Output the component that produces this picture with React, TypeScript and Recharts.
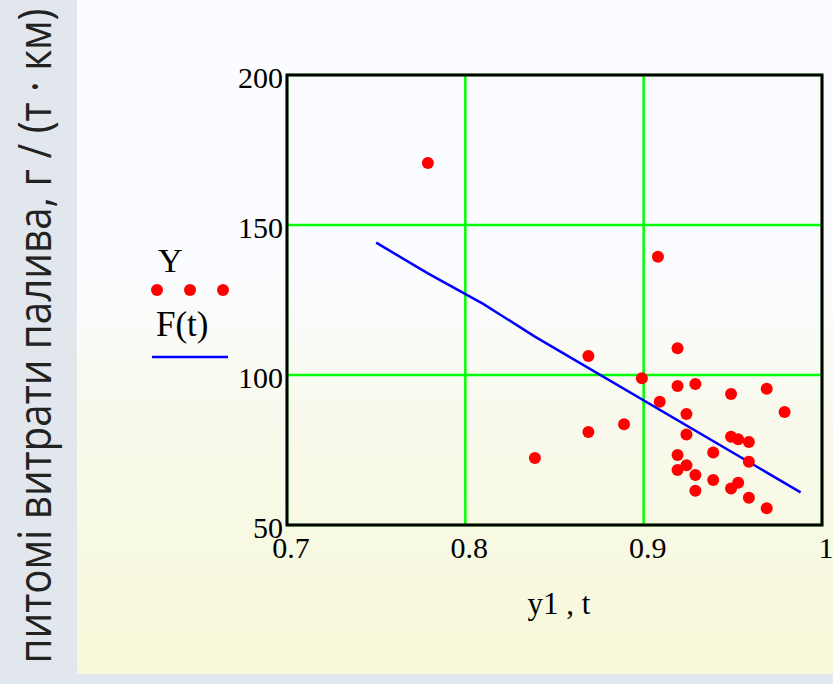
import React from "react";
import {
  ScatterChart,
  Scatter,
  XAxis,
  YAxis,
  CartesianGrid,
  ReferenceArea,
} from "recharts";

// Axis ticks
const xTicks = [0.7, 0.8, 0.9, 1];
const yTicks = [50, 100, 150, 200];

// Measured points: load t vs specific fuel consumption Y
const tValues = [
  0.779, 0.908, 0.869, 0.919, 0.899, 0.919, 0.929, 0.949, 0.969, 0.909, 0.979,
  0.924, 0.869, 0.889, 0.839, 0.924, 0.949, 0.953, 0.959, 0.939, 0.919, 0.959,
  0.919, 0.924, 0.929, 0.939, 0.949, 0.953, 0.929, 0.959, 0.969,
];
const yValues = [
  170.7, 139.4, 106.3, 108.9, 98.9, 96.3, 97, 93.7, 95.4, 91.1, 87.7, 87, 81,
  83.6, 72.3, 80.2, 79.4, 78.6, 77.7, 74.2, 73.3, 71.1, 68.3, 69.9, 66.7, 65,
  62.2, 64.1, 61.4, 59.1, 55.6,
];

// Fitted regression F(t)
const fitT = [0.75, 0.779, 0.81, 0.839, 0.988];
const fitF = [144.1, 133.9, 123.7, 112.8, 60.9];

const points = tValues.map((t, i) => ({ t, v: yValues[i] }));
const fitLine = fitT.map((t, i) => ({ t, v: fitF[i] }));

const SERIF = '"Liberation Serif", "Times New Roman", serif';
const SANS = '"Open Sans", "Noto Sans", sans-serif';

const XTick = (props: any) => {
  const { x, y, payload } = props;
  const label = payload.value === 1 ? "1" : payload.value.toFixed(1);
  return (
    <text x={x + 4} y={y + 33} textAnchor="middle" fontFamily={SERIF} fontSize={30} fill="#000">
      {label}
    </text>
  );
};

const YTick = (props: any) => {
  const { x, y, payload } = props;
  return (
    <text x={x} y={y + 13} textAnchor="end" fontFamily={SERIF} fontSize={30} fill="#000">
      {payload.value}
    </text>
  );
};

const Dot = (props: any) => <circle cx={props.cx} cy={props.cy} r={6} fill="#ff0000" />;
const NoDot = () => <g />;

export default function App() {
  return (
    <div
      style={{
        position: "absolute",
        left: 0,
        top: 0,
        width: 833,
        height: 684,
        background: "#e1e7ed",
        overflow: "hidden",
      }}
    >
      <div
        style={{
          position: "absolute",
          left: 77,
          top: 0,
          width: 756,
          height: 674,
          background:
            "linear-gradient(to bottom, #fbfcff 0%, #fbfcff 40%, #f9faee 60%, #f7f8d7 100%)",
        }}
      />
      <svg width={833} height={684} style={{ position: "absolute", left: 0, top: 0 }}>
        <text
          transform="translate(51,336) rotate(-90)"
          textAnchor="middle"
          fontFamily={SANS}
          fontSize={45}
          fill="#222"
          textLength={655}
          lengthAdjust="spacingAndGlyphs"
        >
          питомі витрати палива, г / (т · км)
        </text>
        <text x={158} y={272} fontFamily={SERIF} fontSize={34} fill="#000">
          Y
        </text>
        <circle cx={157} cy={290} r={6} fill="#ff0000" />
        <circle cx={190} cy={290} r={6} fill="#ff0000" />
        <circle cx={223} cy={290} r={6} fill="#ff0000" />
        <text x={156} y={336} fontFamily={SERIF} fontSize={35} fill="#000">
          F(t)
        </text>
        <line x1={152} y1={357} x2={228} y2={357} stroke="#0000ff" strokeWidth={2.5} />
        <text x={559} y={614} textAnchor="middle" fontFamily={SERIF} fontSize={31} fill="#000">
          y1 , t
        </text>
      </svg>
      <div style={{ position: "absolute", left: 0, top: 0 }}>
        <ScatterChart
          width={833}
          height={684}
          margin={{ top: 75, right: 11, bottom: 119, left: 227 }}
        >
          <CartesianGrid stroke="#00ff00" strokeWidth={2.5} />
          <XAxis
            type="number"
            dataKey="t"
            domain={[0.7, 1]}
            ticks={xTicks}
            interval={0}
            height={40}
            axisLine={false}
            tickLine={false}
            tickSize={0}
            tickMargin={0}
            tick={<XTick />}
          />
          <YAxis
            type="number"
            dataKey="v"
            domain={[50, 200]}
            ticks={yTicks}
            interval={0}
            width={60}
            axisLine={false}
            tickLine={false}
            tickSize={0}
            tickMargin={4}
            tick={<YTick />}
          />
          <ReferenceArea
            x1={0.7}
            x2={1}
            y1={50}
            y2={200}
            fill="none"
            stroke="#000"
            strokeWidth={3}
            ifOverflow="visible"
          />
          <Scatter
            data={fitLine}
            line={{ stroke: "#0000ff", strokeWidth: 2.5 }}
            shape={<NoDot />}
            isAnimationActive={false}
          />
          <Scatter data={points} shape={<Dot />} isAnimationActive={false} />
        </ScatterChart>
      </div>
    </div>
  );
}
